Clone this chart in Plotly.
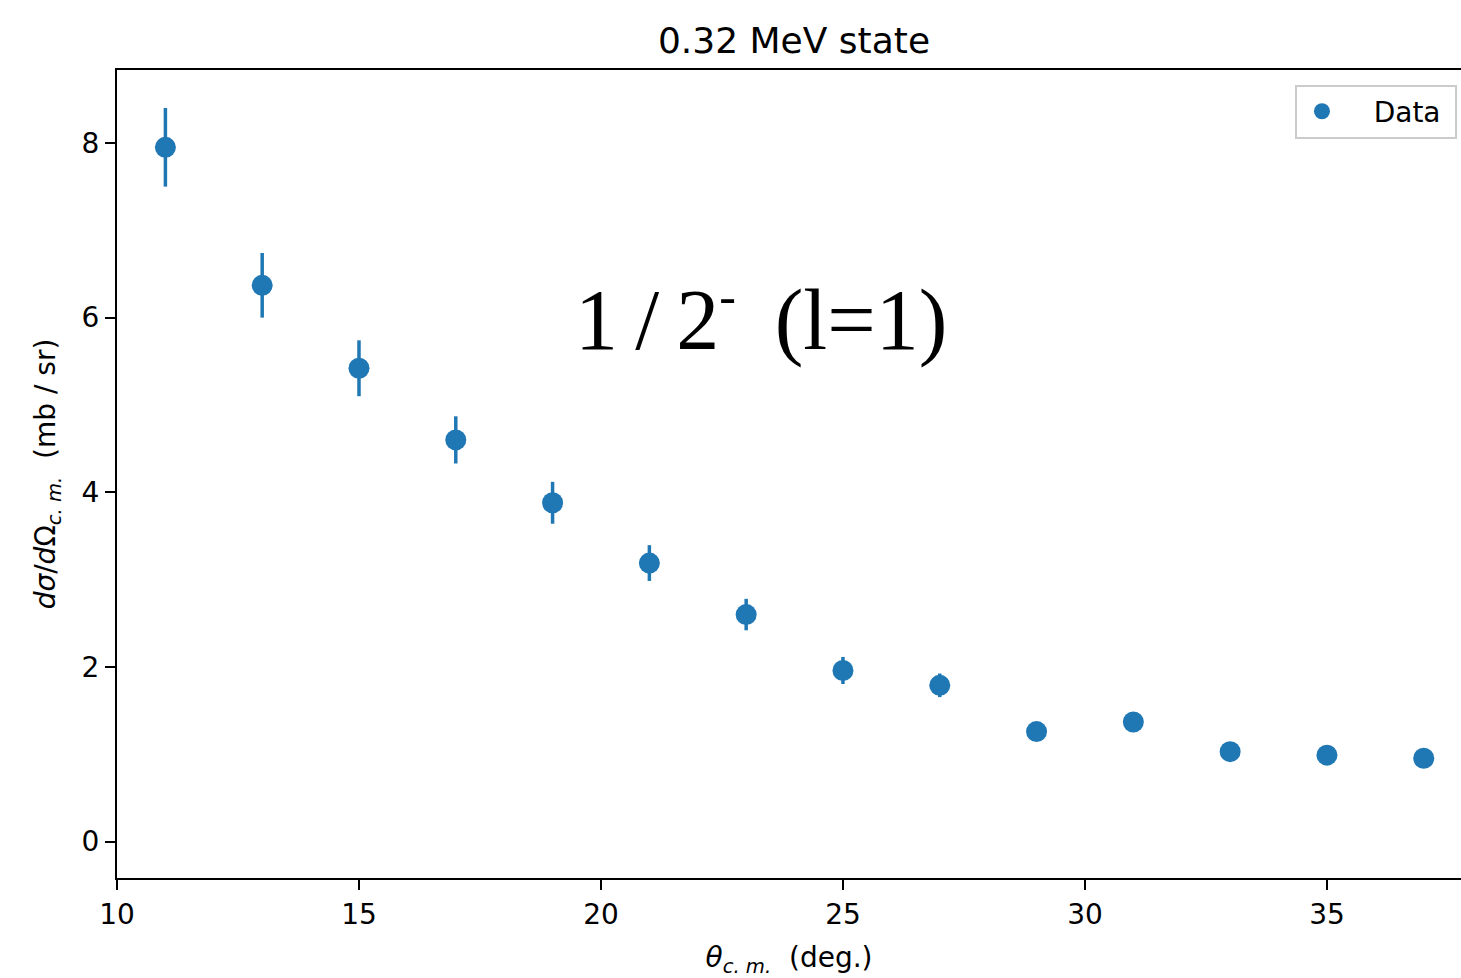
import plotly.graph_objects as go

theta = [11, 13, 15, 17, 19, 21, 23, 25, 27, 29, 31, 33, 35, 37]
xs = [7.95, 6.37, 5.42, 4.60, 3.88, 3.19, 2.60, 1.96, 1.79, 1.26, 1.37, 1.03, 0.99, 0.955]
err = [0.45, 0.37, 0.32, 0.27, 0.24, 0.205, 0.18, 0.155, 0.135, 0.10, 0.10, 0.09, 0.09, 0.09]

C = "#1f77b4"
fig = go.Figure()
fig.add_trace(go.Scatter(
    x=theta, y=xs, mode="markers", name="\u00a0\u00a0\u00a0Data\u00a0",
    marker=dict(color=C, size=21),
    error_y=dict(type="data", array=err, visible=True, color=C, thickness=3.5, width=0),
))

fig.add_annotation(
    x=23.3, y=6.0, xref="x", yref="y", showarrow=False,
    text="1\u2009/\u20092<sup><span style='font-size:50px'>-</span></sup>\u2009 (l=1)",
    font=dict(family="Liberation Serif", size=86, color="black"),
)

axis_common = dict(
    showgrid=False, zeroline=False, showline=True, linecolor="black", linewidth=2,
    ticks="outside", ticklen=10, tickwidth=2, tickcolor="black",
    tickfont=dict(family="DejaVu Sans", size=28, color="black"),
)

fig.update_layout(
    width=1461, height=978,
    margin=dict(l=117, r=0, t=70, b=100),
    paper_bgcolor="white", plot_bgcolor="white",
    title=dict(text="0.32 MeV state", x=(794 / 1461), xanchor="center", y=1 - 40 / 978, yanchor="middle",
               font=dict(family="DejaVu Sans", size=36, color="black")),
    font=dict(family="DejaVu Sans", color="black"),
    xaxis=dict(axis_common, range=[10, 37.77], tickvals=[10, 15, 20, 25, 30, 35], mirror=True,
               title=dict(text="<i>θ</i><sub><i>c. m.</i></sub>  (deg.)", font=dict(size=28), standoff=18)),
    yaxis=dict(axis_common, range=[-0.416, 8.835], tickvals=[0, 2, 4, 6, 8], mirror=False,
               title=dict(text="<i>dσ</i>/<i>d</i>Ω<sub><i>c. m.</i></sub>  (mb / sr)", font=dict(size=28), standoff=18)),
    showlegend=True,
    legend=dict(x=0.997, y=0.982, xanchor="right", yanchor="top",
                bordercolor="#cccccc", borderwidth=2, bgcolor="white",
                font=dict(family="DejaVu Sans", size=28, color="black"),
                itemwidth=40),
)

fig.write_html("out.html")
